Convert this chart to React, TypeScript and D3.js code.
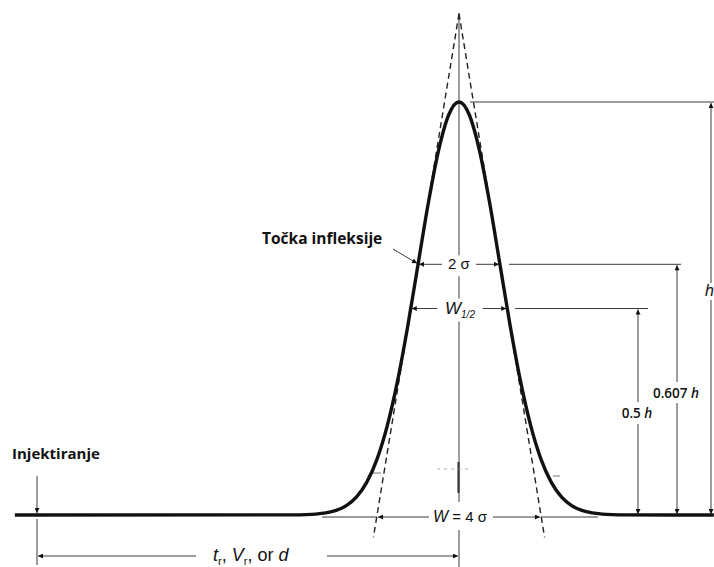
import React from 'react';
import * as d3 from 'd3';

// Canvas
const WIDTH = 714;
const HEIGHT = 567;

// Peak description: time in units of σ, height as a fraction of h
const INJECTION_T = 0;
const RETENTION_T = 10.3;
const SIGMA = 1;
const PEAK_H = 1;
const RUN_START = -0.54;
const RUN_END = 16.52;

// Peak profile: offset from retention time (in σ) and relative height
const PROFILE_Z = [
  -4, -3.75, -3.5, -3.25, -3, -2.75, -2.5, -2.25, -2, -1.75, -1.5, -1.25, -1, -0.75, -0.5, -0.25,
  0, 0.25, 0.5, 0.75, 1, 1.25, 1.5, 1.75, 2, 2.25, 2.5, 2.75, 3, 3.25, 3.5, 3.75, 4,
];
const PROFILE_H = [
  0.0003, 0.0009, 0.0022, 0.0051, 0.0111, 0.0228, 0.0439, 0.0796, 0.1353, 0.2163, 0.3247, 0.4578, 0.6065, 0.7548, 0.8825, 0.9692,
  1, 0.9692, 0.8825, 0.7548, 0.6065, 0.4578, 0.3247, 0.2163, 0.1353, 0.0796, 0.0439, 0.0228, 0.0111, 0.0051, 0.0022, 0.0009, 0.0003,
];

// Characteristic levels and widths
const INFLECTION_LEVEL = 0.607; // height at the inflection points
const HALF_LEVEL = 0.5;
const INFLECTION_HALF_WIDTH = 1; // σ each side -> 2σ
const HALF_HEIGHT_HALF_WIDTH = 1.177; // W1/2 = 2.354σ
const BASE_HALF_WIDTH = 2; // W = 4σ
const TANGENT_APEX = 2 * INFLECTION_LEVEL;
const TANGENT_FOOT = -0.054;

// Text
const LABEL_INJECTION = 'Injektiranje';
const LABEL_INFLECTION = 'Točka infleksije';
const LABEL_LEVEL_607 = '0.607';
const LABEL_LEVEL_HALF = '0.5';

const INK = '#111';
const LINE = '#3a3a3a';

export default function App() {
  const x = d3.scaleLinear().domain([INJECTION_T, RETENTION_T]).range([37, 459]);
  const y = d3.scaleLinear().domain([0, PEAK_H]).range([515, 102]);

  const points: [number, number][] = [
    [RUN_START, 0],
    ...PROFILE_Z.map((z, i) => [RETENTION_T + z * SIGMA, PROFILE_H[i] * PEAK_H] as [number, number]),
    [RUN_END, 0],
  ];
  const trace = d3
    .line<[number, number]>()
    .x((d) => x(d[0]))
    .y((d) => y(d[1]))
    .curve(d3.curveMonotoneX)(points) as string;

  const cx = x(RETENTION_T);
  const base = y(0);
  const yInf = y(INFLECTION_LEVEL);
  const yHalf = y(HALF_LEVEL);
  const yTop = y(PEAK_H);
  const yApex = y(TANGENT_APEX);

  // tangents through the inflection points, extended slightly below the baseline
  const footDx = BASE_HALF_WIDTH * (1 - TANGENT_FOOT / TANGENT_APEX);
  const tangentL = [
    [x(RETENTION_T), yApex],
    [x(RETENTION_T - footDx * SIGMA), y(TANGENT_FOOT)],
  ];
  const tangentR = [
    [x(RETENTION_T), yApex],
    [x(RETENTION_T + footDx * SIGMA), y(TANGENT_FOOT)],
  ];

  const xInfL = x(RETENTION_T - INFLECTION_HALF_WIDTH * SIGMA);
  const xInfR = x(RETENTION_T + INFLECTION_HALF_WIDTH * SIGMA);
  const xHalfL = x(RETENTION_T - HALF_HEIGHT_HALF_WIDTH * SIGMA);
  const xHalfR = x(RETENTION_T + HALF_HEIGHT_HALF_WIDTH * SIGMA);
  const xBaseL = x(RETENTION_T - BASE_HALF_WIDTH * SIGMA);
  const xBaseR = x(RETENTION_T + BASE_HALF_WIDTH * SIGMA);
  const xInj = x(INJECTION_T);

  const xH = 711;
  const x607 = 677;
  const x05 = 638;
  const wLine = base + 2;

  const sans = "'Liberation Sans', Arial, sans-serif";
  const bold = "'Open Sans', 'Noto Sans', sans-serif";

  const arrow = (x1: number, y1: number, x2: number, y2: number, key: string) => (
    <line key={key} x1={x1} y1={y1} x2={x2} y2={y2} stroke={LINE} strokeWidth={1} markerEnd="url(#ah)" />
  );
  const seg = (x1: number, y1: number, x2: number, y2: number, key: string, w = 1) => (
    <line key={key} x1={x1} y1={y1} x2={x2} y2={y2} stroke={LINE} strokeWidth={w} />
  );

  return (
    <svg
      width={WIDTH}
      height={HEIGHT}
      viewBox={`0 0 ${WIDTH} ${HEIGHT}`}
      style={{ position: 'absolute', left: 0, top: 0, background: '#fff' }}
    >
      <defs>
        <marker
          id="ah"
          viewBox="0 0 10 10"
          refX={10}
          refY={5}
          markerWidth={8}
          markerHeight={5}
          markerUnits="userSpaceOnUse"
          orient="auto"
        >
          <path d="M0,0 L10,5 L0,10 z" fill={INK} />
        </marker>
      </defs>

      {/* centre line through the retention time */}
      {seg(cx, yApex, cx, yInf - 9, 'c1')}
      {seg(cx, yInf + 12, cx, yHalf - 10, 'c2')}
      {seg(cx, yHalf + 13, cx, base - 13, 'c3')}
      {seg(cx - 0.5, 462, cx - 0.5, 493, 'c3b', 2.2)}
      {seg(cx, base + 15, cx, HEIGHT, 'c4')}
      <line x1={cx - 22} y1={469} x2={cx + 10} y2={469} stroke="#999" strokeWidth={0.8} strokeDasharray="3 4" />
      {seg(xBaseL - 4, 473, xBaseL + 4, 473, 'tk1', 0.7)}
      {seg(xBaseR + 12, 476, xBaseR + 19, 476, 'tk2', 0.7)}

      {/* tangents at the inflection points */}
      {[tangentL, tangentR].map((t, i) => (
        <line
          key={`tg${i}`}
          x1={t[0][0]}
          y1={t[0][1]}
          x2={t[1][0]}
          y2={t[1][1]}
          stroke="#222"
          strokeWidth={1.4}
          strokeDasharray="6 4"
        />
      ))}

      {/* reference line at the apex and the h dimension */}
      {seg(cx + 11, yTop, WIDTH, yTop, 'top')}
      {arrow(xH, 283, xH, yTop + 1, 'h1')}
      {arrow(xH, 300, xH, base - 1, 'h2')}
      <text x={xH - 6} y={296} fontFamily={sans} fontStyle="italic" fontSize={16} fill={INK}>
        h
      </text>

      {/* 0.607 h */}
      {seg(xInfR + 9, yInf, x607 + 4, yInf, 'l607')}
      {arrow(x607, 382, x607, yInf + 1, 'a607u')}
      {arrow(x607, 403, x607, base - 1, 'a607d')}
      <text x={x607 - 1} y={398} textAnchor="middle" fontFamily={bold} fontWeight={600} fontSize={13.5} fill={INK}>
        {LABEL_LEVEL_607} <tspan fontStyle="italic">h</tspan>
      </text>

      {/* 0.5 h */}
      {seg(xHalfR + 8, yHalf, x05 + 10, yHalf, 'l05')}
      {arrow(x05, 402, x05, yHalf + 1, 'a05u')}
      {arrow(x05, 424, x05, base - 1, 'a05d')}
      <text x={x05 - 1} y={418} textAnchor="middle" fontFamily={bold} fontWeight={600} fontSize={13.5} fill={INK}>
        {LABEL_LEVEL_HALF} <tspan fontStyle="italic">h</tspan>
      </text>

      {/* 2σ */}
      {arrow(cx - 17, yInf, xInfL + 1, yInf, 'sg1')}
      {arrow(cx + 17, yInf, xInfR - 1, yInf, 'sg2')}
      <text x={cx} y={yInf + 5} textAnchor="middle" fontFamily={sans} fontSize={15} fill={INK}>
        2 σ
      </text>

      {/* W1/2 */}
      {arrow(cx - 22, yHalf, xHalfL + 1, yHalf, 'wh1')}
      {arrow(cx + 24, yHalf, xHalfR - 1, yHalf, 'wh2')}
      <text x={cx + 1} y={yHalf + 5} textAnchor="middle" fontFamily={sans} fill={INK}>
        <tspan fontStyle="italic" fontSize={17}>W</tspan>
        <tspan fontStyle="italic" fontSize={10} dy={4}>1/2</tspan>
      </text>

      {/* W = 4σ */}
      {seg(322, wLine, xBaseL, wLine, 'wb0')}
      {arrow(cx - 30, wLine, xBaseL + 1, wLine, 'wb1')}
      {arrow(cx + 34, wLine, xBaseR - 1, wLine, 'wb2')}
      {seg(xBaseR, wLine, 598, wLine, 'wb3')}
      <text x={cx + 1} y={wLine + 5} textAnchor="middle" fontFamily={sans} fontSize={15} fill={INK}>
        <tspan fontStyle="italic" fontSize={16}>W</tspan> = 4 σ
      </text>

      {/* the chromatogram trace */}
      <path d={trace} fill="none" stroke={INK} strokeWidth={3.4} strokeLinejoin="round" />

      {/* injection */}
      <text x={12} y={459} fontFamily={bold} fontWeight={700} fontSize={15} fill={INK}>
        {LABEL_INJECTION}
      </text>
      {arrow(xInj, 476, xInj, base - 2, 'inj')}
      {seg(xInj, base + 4, xInj, 565, 'inj2')}

      {/* retention */}
      {arrow(196, 556, xInj + 1, 556, 'tr1')}
      {arrow(327, 556, cx - 1, 556, 'tr2')}
      <text x={213} y={561} fontFamily={sans} fontSize={18} fill={INK}>
        <tspan fontStyle="italic">t</tspan>
        <tspan fontSize={11} dy={4}>r</tspan>
        <tspan dy={-4}>, </tspan>
        <tspan fontStyle="italic">V</tspan>
        <tspan fontSize={11} dy={4}>r</tspan>
        <tspan dy={-4}>, or </tspan>
        <tspan fontStyle="italic">d</tspan>
      </text>

      {/* inflection point callout */}
      <text x={262} y={244} fontFamily={bold} fontWeight={700} fontSize={15.5} fill={INK}>
        {LABEL_INFLECTION}
      </text>
      {arrow(393, 249, xInfL - 1, yInf - 1, 'inf')}
    </svg>
  );
}
